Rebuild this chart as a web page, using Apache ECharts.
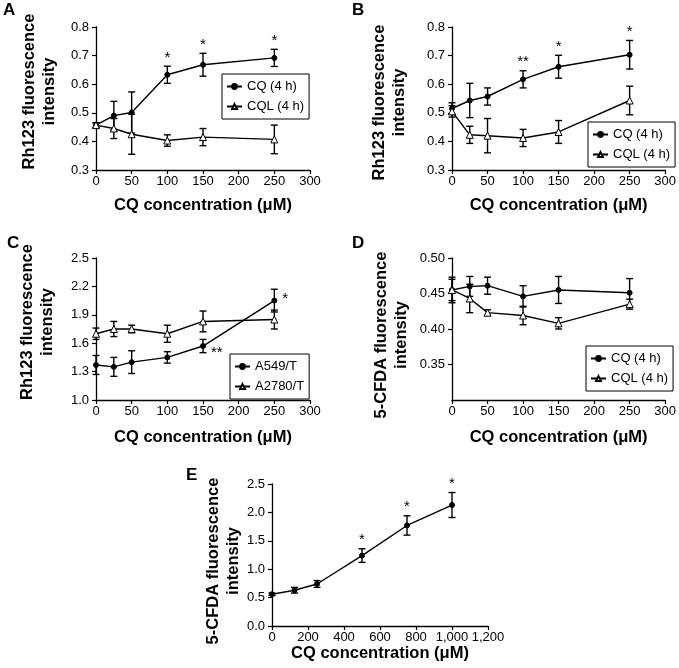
<!DOCTYPE html>
<html>
<head>
<meta charset="utf-8">
<script src="https://cdn.jsdelivr.net/npm/echarts@6/dist/echarts.min.js"></script>
<style>html,body{margin:0;padding:0;background:#fff}#c{width:679px;height:668px}</style>
</head>
<body>
<div id="c"></div>
<script>
// ---------- data ----------
const concA = [0, 25, 50, 100, 150, 250];
const concE = [0, 125, 250, 500, 750, 1000];

const aCQ = [0.457, 0.490, 0.501, 0.633, 0.668, 0.692];
const aCQErr = [0.008, 0.050, 0.072, 0.030, 0.040, 0.030];
const aCQL = [0.457, 0.445, 0.425, 0.403, 0.415, 0.407];
const aCQLErr = [0.008, 0.035, 0.070, 0.020, 0.030, 0.050];
const aStars = [[100, '*'], [150, '*'], [250, '*']];

const bCQ = [0.515, 0.543, 0.557, 0.617, 0.661, 0.703];
const bCQErr = [0.020, 0.060, 0.030, 0.030, 0.040, 0.050];
const bCQL = [0.505, 0.423, 0.420, 0.412, 0.433, 0.543];
const bCQLErr = [0.020, 0.030, 0.060, 0.030, 0.040, 0.050];
const bStars = [[100, '**'], [150, '*'], [250, '*']];

const cA549 = [1.37, 1.35, 1.40, 1.45, 1.57, 2.05];
const cA549Err = [0.10, 0.10, 0.12, 0.06, 0.07, 0.12];
const cA2780 = [1.70, 1.75, 1.75, 1.70, 1.83, 1.85];
const cA2780Err = [0.06, 0.08, 0.04, 0.09, 0.11, 0.10];
const cStars = [[150, '**'], [250, '*']];

const dCQ = [0.455, 0.460, 0.461, 0.446, 0.455, 0.451];
const dCQErr = [0.018, 0.014, 0.012, 0.015, 0.019, 0.020];
const dCQL = [0.455, 0.443, 0.423, 0.419, 0.408, 0.435];
const dCQLErr = [0.015, 0.020, 0.004, 0.013, 0.008, 0.007];

const eCQ = [0.56, 0.63, 0.74, 1.24, 1.77, 2.13];
const eCQErr = [0.02, 0.05, 0.06, 0.12, 0.17, 0.22];
const eStars = [[500, '*'], [750, '*'], [1000, '*']];

const nameCQ = 'CQ (4 h)', nameCQL = 'CQL (4 h)';
const nameA549 = 'A549/T', nameA2780 = 'A2780/T';
const xTitle = 'CQ concentration (μM)';
const yRh = 'Rh123 fluorescence\nintensity';
const yCF = '5-CFDA fluorescence\nintensity';
const panelLetters = ['A', 'B', 'C', 'D', 'E'];

// ---------- build ----------
const FONT = 'Arial, "Liberation Sans", Helvetica, sans-serif';
const chart = echarts.init(document.getElementById('c'));

const grids = [
  {left: 96, top: 27, width: 214, height: 143},
  {left: 452, top: 27, width: 216, height: 143},
  {left: 96, top: 258, width: 214, height: 142},
  {left: 452, top: 258, width: 216, height: 142},
  {left: 272, top: 484, width: 216, height: 142}
];

function xAx(i, max, interval, gap, fmt) {
  return {
    type: 'value', gridIndex: i, min: 0, max: max, interval: interval,
    name: xTitle, nameLocation: 'middle', nameGap: gap,
    nameTextStyle: {fontFamily: FONT, fontSize: 16.5, fontWeight: 'bold', color: '#000'},
    axisLine: {onZero: false, lineStyle: {color: '#000', width: 1.3}},
    axisTick: {length: 4, lineStyle: {color: '#000', width: 1.2}},
    axisLabel: {fontFamily: FONT, fontSize: 13, color: '#000', margin: 5, formatter: fmt},
    splitLine: {show: false}
  };
}
function yAx(i, name, gap, shift, min, max, interval, dec, custom) {
  // shift > 0 moves the title up, < 0 moves it down
  const pad = shift > 0 ? [0, 0, 0, 2 * shift] : [0, -2 * shift, 0, 0];
  const ax = {
    type: 'value', gridIndex: i, min: min, max: max, interval: interval,
    name: name, nameLocation: 'middle', nameGap: gap,
    nameTextStyle: {fontFamily: FONT, fontSize: 16.5, fontWeight: 'bold', color: '#000', lineHeight: 20, padding: pad},
    axisLine: {show: true, onZero: false, lineStyle: {color: '#000', width: 1.3}},
    axisTick: {show: true, length: 4, lineStyle: {color: '#000', width: 1.2}},
    axisLabel: {fontFamily: FONT, fontSize: 13, color: '#000', margin: 7,
      formatter: v => Number(v).toFixed(dec)},
    splitLine: {show: false}
  };
  if (custom) {
    ax.axisLabel.customValues = custom;
    ax.axisTick.customValues = custom;
  }
  return ax;
}

const series = [];
function lineSeries(i, name, xs, ys, tri) {
  series.push({
    type: 'line', name: name, xAxisIndex: i, yAxisIndex: i,
    data: xs.map((x, k) => [x, ys[k]]),
    symbol: tri ? 'triangle' : 'circle', symbolSize: tri ? 7 : 5,
    color: '#000',
    itemStyle: {color: tri ? '#fff' : '#000', borderColor: '#000', borderWidth: 1},
    lineStyle: {color: '#000', width: 1.4},
    z: 3, animation: false
  });
}
function errSeries(i, xs, ys, es) {
  series.push({
    type: 'custom', xAxisIndex: i, yAxisIndex: i, silent: true, z: 2,
    data: xs.map((x, k) => [x, ys[k] - es[k], ys[k] + es[k]]),
    renderItem: function (params, api) {
      const lo = api.coord([api.value(0), api.value(1)]);
      const hi = api.coord([api.value(0), api.value(2)]);
      const w = 3.5;
      const st = {stroke: '#000', lineWidth: 1.4};
      return {type: 'group', children: [
        {type: 'line', shape: {x1: lo[0], y1: lo[1], x2: hi[0], y2: hi[1]}, style: st},
        {type: 'line', shape: {x1: lo[0] - w, y1: lo[1], x2: lo[0] + w, y2: lo[1]}, style: st},
        {type: 'line', shape: {x1: hi[0] - w, y1: hi[1], x2: hi[0] + w, y2: hi[1]}, style: st}
      ]};
    },
    animation: false
  });
}
function starSeries(i, stars, xs, ys, es, mode) {
  series.push({
    type: 'custom', xAxisIndex: i, yAxisIndex: i, silent: true, z: 4,
    data: stars.map(s => {
      const k = xs.indexOf(s[0]);
      return [s[0], mode === 'right' ? ys[k] : ys[k] + es[k], s[1]];
    }),
    renderItem: function (params, api) {
      const p = api.coord([api.value(0), api.value(1)]);
      const txt = stars[params.dataIndex][1];
      if (mode === 'right') {
        const dy = txt === '**' ? 7 : -2;
        return {type: 'text', x: p[0] + 8, y: p[1] + dy,
          style: {text: txt, font: '15px ' + FONT, fill: '#000', textAlign: 'left', textVerticalAlign: 'middle'}};
      }
      return {type: 'text', x: p[0], y: p[1] - 1,
        style: {text: txt, font: '15px ' + FONT, fill: '#000', textAlign: 'center', textVerticalAlign: 'bottom'}};
    },
    animation: false
  });
}

// A
errSeries(0, concA, aCQ, aCQErr); errSeries(0, concA, aCQL, aCQLErr);
lineSeries(0, nameCQ, concA, aCQ, false); lineSeries(0, nameCQL, concA, aCQL, true);
starSeries(0, aStars, concA, aCQ, aCQErr, 'above');
// B
errSeries(1, concA, bCQ, bCQErr); errSeries(1, concA, bCQL, bCQLErr);
lineSeries(1, nameCQ, concA, bCQ, false); lineSeries(1, nameCQL, concA, bCQL, true);
starSeries(1, bStars, concA, bCQ, bCQErr, 'above');
// C
errSeries(2, concA, cA549, cA549Err); errSeries(2, concA, cA2780, cA2780Err);
lineSeries(2, nameA549, concA, cA549, false); lineSeries(2, nameA2780, concA, cA2780, true);
starSeries(2, cStars, concA, cA549, cA549Err, 'right');
// D
errSeries(3, concA, dCQ, dCQErr); errSeries(3, concA, dCQL, dCQLErr);
lineSeries(3, nameCQ, concA, dCQ, false); lineSeries(3, nameCQL, concA, dCQL, true);
// E
errSeries(4, concE, eCQ, eCQErr);
lineSeries(4, 'E', concE, eCQ, false);
starSeries(4, eStars, concE, eCQ, eCQErr, 'above');

function legend(left, top, names) {
  return {
    left: left, top: top, orient: 'vertical', data: names,
    borderColor: '#000', borderWidth: 1, padding: [6, 5, 6, 4], itemGap: 7,
    itemWidth: 15, itemHeight: 6, selectedMode: false,
    textStyle: {fontFamily: FONT, fontSize: 13, color: '#000'}
  };
}

const commaFmt = v => Number(v).toLocaleString('en-US');

chart.setOption({
  animation: false,
  backgroundColor: '#fff',
  grid: grids,
  xAxis: [xAx(0, 300, 50, 27), xAx(1, 300, 50, 27), xAx(2, 300, 50, 29), xAx(3, 300, 50, 29), xAx(4, 1200, 200, 14, commaFmt)],
  yAxis: [
    yAx(0, yRh, 37, 7, 0.3, 0.8, 0.1, 1),
    yAx(1, yRh, 43, -4, 0.3, 0.8, 0.1, 1),
    yAx(2, yRh, 39, 7, 1.0, 2.5, 0.3, 1),
    yAx(3, yCF, 41, -6, 0.30, 0.50, 0.05, 2, [0.35, 0.40, 0.45, 0.50]),
    yAx(4, yCF, 28, -6, 0, 2.5, 0.5, 1)
  ],
  legend: [
    legend(222, 74, [nameCQ, nameCQL]),
    legend(588, 122, [nameCQ, nameCQL]),
    legend(230, 354, [nameA549, nameA2780]),
    legend(586, 346, [nameCQ, nameCQL])
  ],
  graphic: [
    {type: 'text', left: 3, top: 2, style: {text: panelLetters[0], font: 'bold 17px ' + FONT, fill: '#000'}},
    {type: 'text', left: 352, top: 2, style: {text: panelLetters[1], font: 'bold 17px ' + FONT, fill: '#000'}},
    {type: 'text', left: 7, top: 235, style: {text: panelLetters[2], font: 'bold 17px ' + FONT, fill: '#000'}},
    {type: 'text', left: 352, top: 235, style: {text: panelLetters[3], font: 'bold 17px ' + FONT, fill: '#000'}},
    {type: 'text', left: 186, top: 467, style: {text: panelLetters[4], font: 'bold 17px ' + FONT, fill: '#000'}}
  ],
  series: series
});
</script>
</body>
</html>
